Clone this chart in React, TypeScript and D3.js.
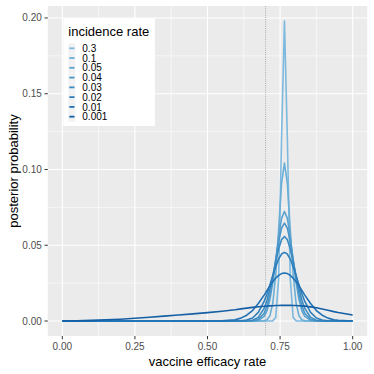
import React, { useEffect, useRef } from 'react';
import * as d3 from 'd3';

// vaccine efficacy grid (x)
const efficacy = [
  0, 0.05, 0.1, 0.15, 0.2, 0.25, 0.3, 0.35, 0.4, 0.45, 0.5, 0.55,
  0.595, 0.615, 0.635, 0.655, 0.675, 0.695,
  0.705, 0.715, 0.725, 0.735, 0.745, 0.755, 0.765, 0.775, 0.785, 0.795, 0.805, 0.815, 0.825, 0.835,
  0.855, 0.875, 0.895, 0.915, 0.935, 0.95, 1.0,
];

const incidenceLabels = ['0.3', '0.1', '0.05', '0.04', '0.03', '0.02', '0.01', '0.001'];

// posterior probability, one array per incidence rate
const post03 = [
  0, 0, 0, 0, 0, 0, 0, 0, 0, 0, 0, 0,
  0, 0, 0, 0, 0, 0,
  0, 0, 0.0001, 0.0024, 0.0278, 0.1206, 0.198, 0.1206, 0.0278, 0.0024, 0.0001, 0, 0, 0,
  0, 0, 0, 0, 0, 0, 0,
];
const post01 = [
  0, 0, 0, 0, 0, 0, 0, 0, 0, 0, 0, 0,
  0, 0, 0, 0, 0, 0.0001,
  0.0008, 0.0035, 0.0119, 0.0307, 0.0605, 0.0908, 0.1042, 0.0908, 0.0605, 0.0307, 0.0119, 0.0035, 0.0008, 0.0001,
  0, 0, 0, 0, 0, 0, 0,
];
const post005 = [
  0, 0, 0, 0, 0, 0, 0, 0, 0, 0, 0, 0,
  0, 0, 0, 0, 0.0004, 0.003,
  0.0069, 0.0142, 0.0255, 0.0402, 0.0557, 0.0677, 0.0723, 0.0677, 0.0557, 0.0402, 0.0255, 0.0142, 0.0069, 0.003,
  0.0004, 0, 0, 0, 0, 0, 0,
];
const post004 = [
  0, 0, 0, 0, 0, 0, 0, 0, 0, 0, 0, 0,
  0, 0, 0, 0.0001, 0.001, 0.0051,
  0.0099, 0.0176, 0.0281, 0.0405, 0.0525, 0.0613, 0.0646, 0.0613, 0.0525, 0.0405, 0.0281, 0.0176, 0.0099, 0.0051,
  0.001, 0.0001, 0, 0, 0, 0, 0,
];
const post003 = [
  0, 0, 0, 0, 0, 0, 0, 0, 0, 0, 0, 0,
  0, 0, 0.0001, 0.0005, 0.0024, 0.0083,
  0.0137, 0.0211, 0.0299, 0.0393, 0.0477, 0.0537, 0.0558, 0.0537, 0.0477, 0.0393, 0.0299, 0.0211, 0.0137, 0.0083,
  0.0024, 0.0005, 0.0001, 0, 0, 0, 0,
];
const post002 = [
  0, 0, 0, 0, 0, 0, 0, 0, 0, 0, 0, 0,
  0, 0.0001, 0.0006, 0.002, 0.0057, 0.0129,
  0.018, 0.0239, 0.0301, 0.036, 0.0409, 0.0442, 0.0453, 0.0442, 0.0409, 0.036, 0.0301, 0.0239, 0.018, 0.0129,
  0.0057, 0.002, 0.0006, 0.0001, 0, 0, 0,
];
const post001 = [
  0, 0, 0, 0, 0, 0, 0, 0, 0, 0, 0, 0.0001,
  0.0008, 0.0019, 0.0038, 0.0069, 0.0115, 0.0171,
  0.0202, 0.0231, 0.0259, 0.0283, 0.0301, 0.0313, 0.0317, 0.0313, 0.0301, 0.0283, 0.0259, 0.0231, 0.0202, 0.0171,
  0.0115, 0.0069, 0.0038, 0.0019, 0.0008, 0.0005, 0,
];
const post0001 = [
  0, 0.0001, 0.0004, 0.0008, 0.0012, 0.0018, 0.0025, 0.0032, 0.004, 0.0047, 0.0055, 0.0064,
  0.0074, 0.008, 0.0085, 0.009, 0.0094, 0.0097,
  0.0099, 0.01, 0.0101, 0.0102, 0.0102, 0.0103, 0.0103, 0.0103, 0.0103, 0.0102, 0.0102, 0.0101, 0.01, 0.0098,
  0.0093, 0.0087, 0.0079, 0.0071, 0.0062, 0.0056, 0.004,
];

const posteriors = [post03, post01, post005, post004, post003, post002, post001, post0001];

const lineColors = ['#7db9de', '#6aaed6', '#5aa2cf', '#4a96c8', '#3b8ac1', '#2e7ebb', '#2171b5', '#155fa5'];

const xTicks = [0, 0.25, 0.5, 0.75, 1];
const yTicks = [0, 0.05, 0.1, 0.15, 0.2];
const cutoff = 0.7;

const FONT = "'Liberation Sans', Arial, Helvetica, sans-serif";

const App = () => {
  const svgRef = useRef(null);
  const width = 374;
  const height = 374;

  useEffect(() => {
    const svg = d3.select(svgRef.current);
    svg.selectAll('*').remove();

    const panel = { left: 47.8, right: 367.2, top: 6, bottom: 336 };

    const x = d3.scaleLinear().domain([-0.05, 1.05]).range([panel.left, panel.right]);
    const yMax = d3.max(posteriors, s => d3.max(s));
    const yPad = yMax * 0.05;
    const y = d3.scaleLinear().domain([-yPad, yMax + yPad]).range([panel.bottom, panel.top]);

    // panel background
    svg.append('rect')
      .attr('x', panel.left).attr('y', panel.top)
      .attr('width', panel.right - panel.left).attr('height', panel.bottom - panel.top)
      .attr('fill', '#ebebeb');

    // minor grid
    const xMinor = [0.125, 0.375, 0.625, 0.875];
    const yMinor = [0.025, 0.075, 0.125, 0.175];
    svg.append('g').selectAll('line').data(xMinor).enter().append('line')
      .attr('x1', d => x(d)).attr('x2', d => x(d))
      .attr('y1', panel.top).attr('y2', panel.bottom)
      .attr('stroke', '#fff').attr('stroke-width', 0.55);
    svg.append('g').selectAll('line').data(yMinor).enter().append('line')
      .attr('x1', panel.left).attr('x2', panel.right)
      .attr('y1', d => y(d)).attr('y2', d => y(d))
      .attr('stroke', '#fff').attr('stroke-width', 0.55);

    // major grid
    svg.append('g').selectAll('line').data(xTicks).enter().append('line')
      .attr('x1', d => x(d)).attr('x2', d => x(d))
      .attr('y1', panel.top).attr('y2', panel.bottom)
      .attr('stroke', '#fff').attr('stroke-width', 1.1);
    svg.append('g').selectAll('line').data(yTicks).enter().append('line')
      .attr('x1', panel.left).attr('x2', panel.right)
      .attr('y1', d => y(d)).attr('y2', d => y(d))
      .attr('stroke', '#fff').attr('stroke-width', 1.1);

    // cutoff line
    svg.append('line')
      .attr('x1', x(cutoff)).attr('x2', x(cutoff))
      .attr('y1', panel.top).attr('y2', panel.bottom)
      .attr('stroke', '#9a9a9a').attr('stroke-width', 0.8)
      .attr('stroke-dasharray', '1,1.2');

    // curves
    svg.append('clipPath').attr('id', 'panel-clip')
      .append('rect')
      .attr('x', panel.left).attr('y', panel.top)
      .attr('width', panel.right - panel.left).attr('height', panel.bottom - panel.top);

    const line = d3.line()
      .x((d, i) => x(efficacy[i]))
      .y(d => y(d));

    svg.append('g').attr('clip-path', 'url(#panel-clip)')
      .selectAll('path').data(posteriors).enter().append('path')
      .attr('d', d => line(d))
      .attr('fill', 'none')
      .attr('stroke', (d, i) => lineColors[i])
      .attr('stroke-width', 1.6)
      .attr('stroke-linejoin', 'round');

    // axes ticks + labels
    const gx = svg.append('g');
    gx.selectAll('line').data(xTicks).enter().append('line')
      .attr('x1', d => x(d)).attr('x2', d => x(d))
      .attr('y1', panel.bottom).attr('y2', panel.bottom + 3.3)
      .attr('stroke', '#333').attr('stroke-width', 1);
    gx.selectAll('text').data(xTicks).enter().append('text')
      .attr('x', d => x(d)).attr('y', panel.bottom + 13.5)
      .attr('text-anchor', 'middle')
      .attr('font-family', FONT).attr('font-size', 10)
      .attr('fill', '#4d4d4d')
      .text(d => d3.format('.2f')(d));

    const gy = svg.append('g');
    gy.selectAll('line').data(yTicks).enter().append('line')
      .attr('x1', panel.left - 3.3).attr('x2', panel.left)
      .attr('y1', d => y(d)).attr('y2', d => y(d))
      .attr('stroke', '#333').attr('stroke-width', 1);
    gy.selectAll('text').data(yTicks).enter().append('text')
      .attr('x', panel.left - 6).attr('y', d => y(d) + 3.5)
      .attr('text-anchor', 'end')
      .attr('font-family', FONT).attr('font-size', 10)
      .attr('fill', '#4d4d4d')
      .text(d => d3.format('.2f')(d));

    // axis titles
    svg.append('text')
      .attr('x', (panel.left + panel.right) / 2).attr('y', 365.5)
      .attr('text-anchor', 'middle')
      .attr('font-family', FONT).attr('font-size', 13)
      .attr('fill', '#000')
      .text('vaccine efficacy rate');
    svg.append('text')
      .attr('transform', `translate(17.5,${(panel.top + panel.bottom) / 2}) rotate(-90)`)
      .attr('text-anchor', 'middle')
      .attr('font-family', FONT).attr('font-size', 13)
      .attr('fill', '#000')
      .text('posterior probability');

    // legend
    const lg = svg.append('g');
    lg.append('rect')
      .attr('x', 63.3).attr('y', 18.3)
      .attr('width', 91.7).attr('height', 107.7)
      .attr('fill', '#fff');
    lg.append('text')
      .attr('x', 68.3).attr('y', 36)
      .attr('font-family', FONT).attr('font-size', 13)
      .attr('fill', '#000')
      .text('incidence rate');
    const keyTop = 43.4;
    const keyStep = 9.77;
    lg.selectAll('rect.key').data(incidenceLabels).enter().append('rect')
      .attr('class', 'key')
      .attr('x', 68.3).attr('y', (d, i) => keyTop + i * keyStep)
      .attr('width', 7).attr('height', keyStep)
      .attr('fill', '#f2f2f2');
    lg.selectAll('line').data(incidenceLabels).enter().append('line')
      .attr('x1', 69.3).attr('x2', 74.5)
      .attr('y1', (d, i) => keyTop + i * keyStep + keyStep / 2)
      .attr('y2', (d, i) => keyTop + i * keyStep + keyStep / 2)
      .attr('stroke', (d, i) => lineColors[i])
      .attr('stroke-width', 1.8);
    lg.selectAll('text.lab').data(incidenceLabels).enter().append('text')
      .attr('class', 'lab')
      .attr('x', 82.3).attr('y', (d, i) => keyTop + i * keyStep + keyStep / 2 + 3.6)
      .attr('font-family', FONT).attr('font-size', 10)
      .attr('fill', '#000')
      .text(d => d);
  }, []);

  return (
    <svg
      ref={svgRef}
      width={width}
      height={height}
      style={{ position: 'absolute', left: 0, top: 0, background: '#fff' }}
    />
  );
};

export default App;
